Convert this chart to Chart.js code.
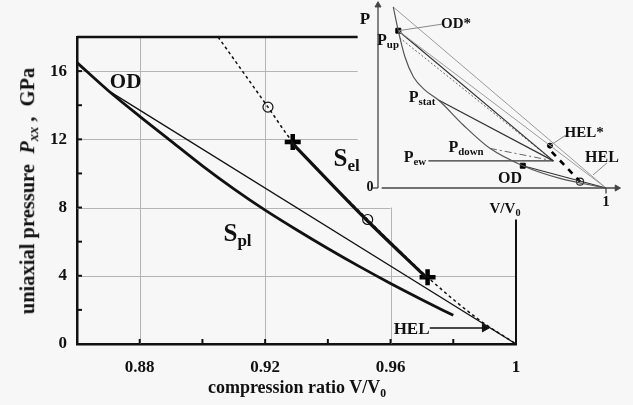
<!DOCTYPE html>
<html>
<head>
<meta charset="utf-8">
<script src="https://cdn.jsdelivr.net/npm/chart.js@4.4.1/dist/chart.umd.min.js"></script>
<style>
  html, body { margin: 0; padding: 0; background: #f7f7f7; }
  #wrap { position: relative; width: 633px; height: 405px; overflow: hidden;
          font-family: 'Liberation Serif', 'Times New Roman', serif; font-weight: bold; color: #111; }
  canvas { position: absolute; }
  #main { left: 0; top: 0; }
  #inset { left: 358px; top: 0; }
  .lbl { position: absolute; transform: translate(-50%, -50%); white-space: nowrap; line-height: 1; }
  .lbl sub { font-size: 0.68em; vertical-align: -0.3em; line-height: 0; }
  #ytitle { position: absolute; left: 29px; top: 191px; transform: translate(-50%, -50%) rotate(-90deg);
            white-space: nowrap; font-size: 20.5px; line-height: 1; }
  #xtitle { position: absolute; left: 297px; top: 389px; transform: translate(-50%, -50%);
            white-space: nowrap; font-size: 18px; line-height: 1; }
</style>
</head>
<body>
<div id="wrap">
  <canvas id="main" width="633" height="405"></canvas>
  <canvas id="inset" width="275" height="220"></canvas>
  <div id="ytitle">uniaxial pressure&nbsp;&nbsp;<i>P</i><sub style="font-size:0.7em;vertical-align:-0.3em"><i>xx</i></sub>&nbsp;,&nbsp;&nbsp;GPa</div>
  <div id="xtitle">compression ratio V/V<sub style="font-size:0.65em;vertical-align:-0.3em">0</sub></div>
</div>
<script>
const FONT = "'Liberation Serif', 'Times New Roman', serif";

// ---- main chart: axes ----
const xTickValues = [0.88, 0.92, 0.96, 1];
const yTickValues = [0, 4, 8, 12, 16];
const xSmallTicks = [0.88, 0.90, 0.92, 0.94, 0.96, 0.98];
const ySmallTicks = [2, 4, 6, 8, 10, 12, 14, 16];

// plastic branch S_pl (thick)
const splV = [0.860, 0.870, 0.880, 0.890, 0.900, 0.910, 0.920, 0.930, 0.940, 0.950, 0.960, 0.970, 0.980];
const splP = [16.5, 14.85, 13.35, 11.9, 10.45, 9.1, 7.85, 6.7, 5.6, 4.55, 3.55, 2.6, 1.68];

// straight line from OD to V/V0 = 1
const odLineV = [0.8705, 1];
const odLineP = [14.8, 0];

// elastic branch (dashed)
const elV = [0.905, 0.9209, 0.9288, 0.9527, 0.9718, 0.988, 1];
const elP = [18, 13.89, 11.84, 7.3, 3.92, 1.45, 0];

// S_el segment between the crosses (thick)
const selV = [0.9283, 0.9522, 0.9713];
const selP = [11.84, 7.3, 3.92];

const crossV = [0.9288, 0.9718];
const crossP = [11.84, 3.92];
const ringV = [0.9209, 0.9527];
const ringP = [13.89, 7.3];

// frame pieces and HEL arrow
const topFrameV = [0.86, 0.9495];
const topFrameP = [18, 18];
const rightFrameV = [1, 1];
const rightFrameP = [0, 7.3];
const helArrowV = [0.9725, 0.9900];
const helArrowP = [0.94, 0.94];

// grid lines: [value, where it stops]
const hGrid = [[4, 1], [8, 0.96], [12, 0.9495], [16, 0.9495]];
const vGrid = [[0.88, 18], [0.92, 18], [0.96, 8]];

// ---- inset (schematic, arbitrary units) ----
const curveU = [0.067, 0.089, 0.118, 0.155, 0.206, 0.265, 0.374, 0.491, 0.635, 0.798, 1.0];
const curveW = [1.0, 0.869, 0.725, 0.615, 0.541, 0.486, 0.348, 0.219, 0.123, 0.053, 0.0];
const ptTop = [0.067, 1.0];
const ptUp = [0.089, 0.869];
const ptStat = [0.265, 0.486];
const ptDown = [0.491, 0.219];
const ptEwStart = [0.221, 0.15];
const ptKink = [0.769, 0.15];
const ptOD = [0.635, 0.123];
const ptHelStar = [0.754, 0.234];
const ptRing = [0.886, 0.035];
const ptEnd = [1.0, 0.0];
const dashStart = [0.762, 0.2];

function pts(xs, ys) { return xs.map((x, i) => ({ x: x, y: ys[i] })); }
function seg(a, b) { return [{ x: a[0], y: a[1] }, { x: b[0], y: b[1] }]; }
function one(a) { return [{ x: a[0], y: a[1] }]; }

function lineSet(data, color, width, dash, extra) {
  return Object.assign({
    data: data, showLine: true, borderColor: color, borderWidth: width,
    borderDash: dash || [], pointRadius: 0, fill: false, clip: false
  }, extra || {});
}

// grid lines and small inside ticks, drawn from the scales
const mainDecor = {
  id: 'mainDecor',
  beforeDatasetsDraw(chart) {
    const { ctx, scales: { x, y } } = chart;
    ctx.save();
    ctx.strokeStyle = '#b4b4b4';
    ctx.lineWidth = 1;
    hGrid.forEach(([p, vEnd]) => {
      const py = Math.round(y.getPixelForValue(p)) + 0.5;
      ctx.beginPath();
      ctx.moveTo(x.getPixelForValue(0.86), py);
      ctx.lineTo(x.getPixelForValue(vEnd), py);
      ctx.stroke();
    });
    vGrid.forEach(([v, pEnd]) => {
      const px = Math.round(x.getPixelForValue(v)) + 0.5;
      ctx.beginPath();
      ctx.moveTo(px, y.getPixelForValue(0));
      ctx.lineTo(px, y.getPixelForValue(pEnd));
      ctx.stroke();
    });
    ctx.strokeStyle = '#111';
    ctx.lineWidth = 2;
    xSmallTicks.forEach(v => {
      const px = x.getPixelForValue(v);
      ctx.beginPath();
      ctx.moveTo(px, y.bottom);
      ctx.lineTo(px, y.bottom - 5);
      ctx.stroke();
    });
    ySmallTicks.forEach(p => {
      const py = y.getPixelForValue(p);
      ctx.beginPath();
      ctx.moveTo(x.left, py);
      ctx.lineTo(x.left + 5, py);
      ctx.stroke();
    });
    ctx.restore();
  }
};

const mainChart = new Chart(document.getElementById('main'), {
  type: 'scatter',
  data: {
    datasets: [
      lineSet(pts(topFrameV, topFrameP), '#111', 2.5),
      lineSet(pts(rightFrameV, rightFrameP), '#111', 2),
      lineSet(pts(odLineV, odLineP), '#111', 1.3),
      lineSet(pts(splV, splP), '#111', 2.8, null, { cubicInterpolationMode: 'monotone' }),
      lineSet(pts(elV, elP), '#111', 1.5, [3, 3], { cubicInterpolationMode: 'monotone' }),
      lineSet(pts(selV, selP), '#111', 3.2, null, { cubicInterpolationMode: 'monotone' }),
      lineSet(pts(helArrowV, helArrowP), '#111', 1.5, null, {
        pointRadius: [0, 4.5], pointStyle: 'triangle', pointRotation: 90,
        pointBackgroundColor: '#111', pointBorderColor: '#111', pointBorderWidth: 1
      }),
      { data: pts(ringV, ringP), showLine: false, pointStyle: 'circle', pointRadius: 5,
        pointBorderColor: '#111', pointBorderWidth: 1.2, pointBackgroundColor: 'rgba(0,0,0,0)' },
      { data: pts(crossV, crossP), showLine: false, pointStyle: 'cross', pointRadius: 8,
        pointBorderColor: '#000', pointBorderWidth: 4.5 }
    ]
  },
  options: {
    responsive: false,
    animation: false,
    events: [],
    layout: { padding: { left: 0, top: 37, right: 117, bottom: 0 } },
    plugins: { legend: { display: false }, tooltip: { enabled: false } },
    scales: {
      x: {
        type: 'linear', min: 0.86, max: 1,
        afterBuildTicks: s => { s.ticks = xTickValues.map(v => ({ value: v })); },
        afterFit: s => { s.height = 61; },
        grid: { display: false, drawTicks: false },
        border: { display: true, width: 2.5, color: '#111' },
        ticks: {
          padding: 13, color: '#111', autoSkip: false, maxRotation: 0,
          font: { family: FONT, size: 17, weight: 'bold' },
          callback: v => (v === 1 ? '1' : v.toFixed(2))
        }
      },
      y: {
        type: 'linear', min: 0, max: 18,
        afterBuildTicks: s => { s.ticks = yTickValues.map(v => ({ value: v })); },
        afterFit: s => { s.width = 77; },
        grid: { display: false, drawTicks: false },
        border: { display: true, width: 2.5, color: '#111' },
        ticks: {
          padding: 10, color: '#111',
          font: { family: FONT, size: 17, weight: 'bold' }
        }
      }
    }
  },
  plugins: [mainDecor]
});

const insetChart = new Chart(document.getElementById('inset'), {
  type: 'scatter',
  data: {
    datasets: [
      // axes with arrows and the two ticks
      lineSet(seg([0, 0], [0, 1.01]), '#444', 1.3, null, {
        pointRadius: [0, 3.5], pointStyle: 'triangle', pointRotation: 0,
        pointBackgroundColor: '#444', pointBorderColor: '#444', pointBorderWidth: 1
      }),
      lineSet(seg([0.016, 0], [1.048, 0]), '#444', 1.3, null, {
        pointRadius: [0, 3.5], pointStyle: 'triangle', pointRotation: 90,
        pointBackgroundColor: '#444', pointBorderColor: '#444', pointBorderWidth: 1
      }),
      lineSet(seg([-0.025, 0], [0, 0]), '#444', 1.3),
      lineSet(seg([1, 0], [1, -0.03]), '#444', 1.3),
      // curve
      lineSet(pts(curveU, curveW), '#555', 1.2, null, { cubicInterpolationMode: 'monotone' }),
      // straight lines to V/V0 = 1
      lineSet(seg(ptTop, ptEnd), '#9a9a9a', 1),
      lineSet(seg(ptUp, ptEnd), '#9a9a9a', 1),
      lineSet(seg(ptOD, ptEnd), '#333', 1.2),
      // lines to the kink
      lineSet(seg(ptUp, ptKink), '#333', 1.2),
      lineSet(seg([0.095, 0.83], ptKink), '#666', 1, [2, 2]),
      lineSet(seg(ptStat, ptKink), '#333', 1.2),
      lineSet(seg(ptDown, ptKink), '#666', 1, [7, 3, 2, 3]),
      lineSet(seg(ptEwStart, ptKink), '#333', 1.2),
      // thick dashed
      lineSet(seg(dashStart, ptRing), '#000', 2.6, [6, 6]),
      // label pointers
      lineSet(seg(ptUp, [0.28, 0.905]), '#888', 1),
      lineSet(seg(ptHelStar, [0.825, 0.293]), '#888', 1),
      lineSet(seg([0.943, 0.072], [1.004, 0.138]), '#888', 1),
      // markers
      { data: one(ptUp).concat(one(ptOD)), showLine: false, pointStyle: 'rect',
        pointRadius: 3.5, pointBackgroundColor: '#000', pointBorderColor: '#000', clip: false },
      { data: one(ptHelStar), showLine: false, pointStyle: 'circle',
        pointRadius: 2.5, pointBackgroundColor: '#000', pointBorderColor: '#000', clip: false },
      { data: one(ptRing), showLine: false, pointStyle: 'circle',
        pointRadius: 3.5, pointBackgroundColor: '#f7f7f7', pointBorderColor: '#222', pointBorderWidth: 1.1, clip: false }
    ]
  },
  options: {
    responsive: false,
    animation: false,
    events: [],
    layout: { padding: { left: 20, top: 7, right: 13.3, bottom: 32 } },
    plugins: { legend: { display: false }, tooltip: { enabled: false } },
    scales: {
      x: { type: 'linear', min: 0, max: 1.06, display: false },
      y: { type: 'linear', min: 0, max: 1, display: false }
    }
  }
});

// text labels placed through the scales
const mainLabels = [
  { x: 0.8755, y: 15.4, html: 'OD', size: 21 },
  { x: 0.946, y: 10.95, html: 'S<sub>el</sub>', size: 25 },
  { x: 0.9112, y: 6.56, html: 'S<sub>pl</sub>', size: 25 },
  { x: 0.9667, y: 0.94, html: 'HEL', size: 17 }
];
const insetLabels = [
  { x: -0.057, y: 0.939, html: 'P', size: 17 },
  { x: -0.035, y: 0.005, html: '0', size: 14 },
  { x: 0.342, y: 0.912, html: 'OD*', size: 15 },
  { x: 0.044, y: 0.818, html: 'P<sub>up</sub>', size: 16 },
  { x: 0.193, y: 0.503, html: 'P<sub>stat</sub>', size: 16 },
  { x: 0.904, y: 0.309, html: 'HEL*', size: 15 },
  { x: 0.386, y: 0.227, html: 'P<sub>down</sub>', size: 16 },
  { x: 0.162, y: 0.171, html: 'P<sub>ew</sub>', size: 16 },
  { x: 0.579, y: 0.055, html: 'OD', size: 16 },
  { x: 0.982, y: 0.171, html: 'HEL', size: 16 },
  { x: 0.557, y: -0.11, html: 'V/V<sub>0</sub>', size: 15 },
  { x: 1.0, y: -0.072, html: '1', size: 15 }
];

function placeLabels(chart, offX, offY, list) {
  const wrap = document.getElementById('wrap');
  list.forEach(l => {
    const d = document.createElement('div');
    d.className = 'lbl';
    d.innerHTML = l.html;
    d.style.fontSize = l.size + 'px';
    d.style.left = (offX + chart.scales.x.getPixelForValue(l.x)) + 'px';
    d.style.top = (offY + chart.scales.y.getPixelForValue(l.y)) + 'px';
    wrap.appendChild(d);
  });
}
placeLabels(mainChart, 0, 0, mainLabels);
placeLabels(insetChart, 358, 0, insetLabels);
</script>
</body>
</html>
